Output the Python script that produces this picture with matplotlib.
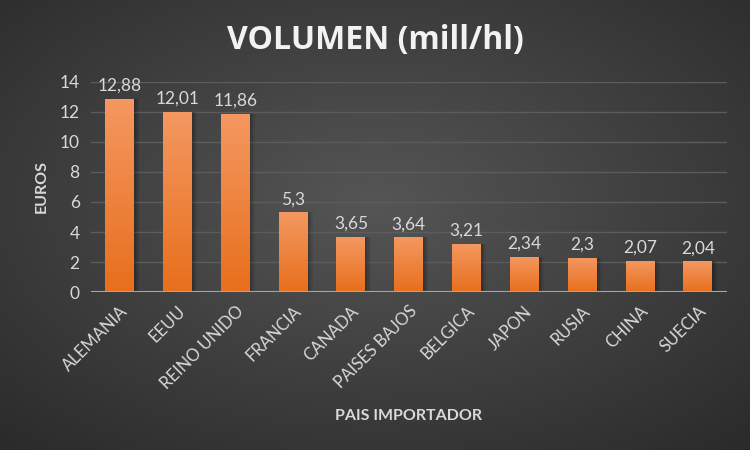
import numpy as np
import matplotlib
matplotlib.use('Agg')
import matplotlib.pyplot as plt

paises = ['ALEMANIA', 'EEUU', 'REINO UNIDO', 'FRANCIA', 'CANADA', 'PAISES BAJOS',
          'BELGICA', 'JAPON', 'RUSIA', 'CHINA', 'SUECIA']
volumen = [12.88, 12.01, 11.86, 5.3, 3.65, 3.64, 3.21, 2.34, 2.3, 2.07, 2.04]
yticks = [0, 2, 4, 6, 8, 10, 12, 14]

plt.rcParams['font.family'] = ['Lato', 'DejaVu Sans']
txt = '#d9d9d9'

fig = plt.figure(figsize=(7.5, 4.5), dpi=100)

# radial background
bg = fig.add_axes([0, 0, 1, 1])
yy, xx = np.mgrid[0:1:300j, 0:1:500j]
r = np.sqrt(((xx - 0.5) / 0.75) ** 2 + ((yy - 0.55) / 0.75) ** 2)
g = np.clip(0.335 - 0.17 * r, 0.15, 0.34)
bg.imshow(np.dstack([g, g, g]), extent=[0, 1, 0, 1], aspect='auto', origin='lower')
bg.axis('off')

ax = fig.add_axes([0.121, 0.351, 0.848, 0.467])
ax.patch.set_alpha(0)
x = np.arange(len(paises))
bars = ax.bar(x, volumen, width=0.5, color='#ED7D31', zorder=3)

# shadow + gradient fill on each bar
grad = np.linspace(0, 1, 100).reshape(-1, 1)
c_top = np.array([0.957, 0.596, 0.380])
c_bot = np.array([0.910, 0.435, 0.110])
img = c_bot + (c_top - c_bot) * grad[..., None]
img = img.reshape(100, 1, 3)
for b in bars:
    for k, a in [(0.09, 0.07), (0.06, 0.1), (0.03, 0.12)]:
        ax.bar(b.get_x() + b.get_width() / 2 + k / 2, b.get_height(), width=b.get_width() + k,
               color='black', alpha=a, zorder=2, linewidth=0)
    im = ax.imshow(img, extent=[b.get_x(), b.get_x() + b.get_width(), 0, b.get_height()],
                   aspect='auto', origin='lower', zorder=4)
    im.set_clip_path(b)

for xi, v in zip(x, volumen):
    lab = ('%g' % v).replace('.', ',')
    ax.text(xi, v + 0.35, lab, ha='center', va='bottom', color=txt, fontsize=12.5, zorder=5)

ax.set_xlim(-0.5, len(paises) - 0.5)
ax.set_ylim(0, 14)
ax.set_yticks(yticks)
ax.grid(axis='y', color='#5c5c5c', linewidth=1, zorder=0)
ax.axhline(0, color='#a6a6a6', linewidth=1.5, zorder=5)
for s in ax.spines.values():
    s.set_visible(False)
ax.tick_params(length=0, colors=txt, labelsize=12.5)
ax.tick_params(axis='y', pad=8)
ax.set_xticks(x)
ax.set_xticklabels(paises, rotation=45, ha='right', rotation_mode='anchor', color=txt, fontsize=12)
ax.tick_params(axis='x', pad=8)
ax.set_ylabel('EUROS', color=txt, fontsize=11.5, fontweight='bold', labelpad=8)
ax.set_xlabel('PAIS IMPORTADOR', color=txt, fontsize=11.5, fontweight='bold', labelpad=12)

fig.text(0.5, 0.91, 'VOLUMEN (mill/hl)', ha='center', va='center', color='#f2f2f2',
         fontsize=23, fontweight='bold', family=['Open Sans', 'DejaVu Sans'])

fig.savefig('out.png', dpi=100)
